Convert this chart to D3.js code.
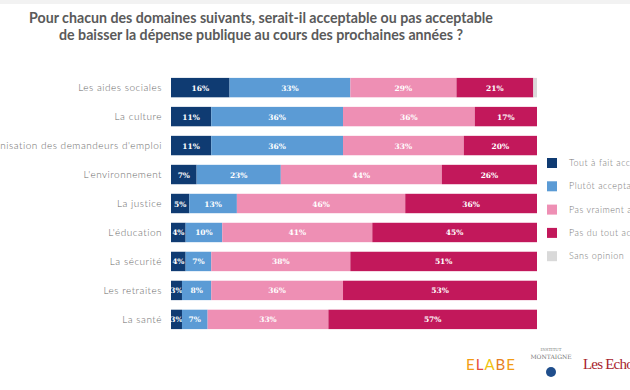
<!DOCTYPE html>
<html><head><meta charset="utf-8">
<script src="https://cdn.jsdelivr.net/npm/d3@7"></script>
<style>html,body{margin:0;padding:0;background:#fff;overflow:hidden}</style>
</head><body>
<svg id="c" width="630" height="390"></svg>
<script>
const categories = ["Les aides sociales","La culture","L'indemnisation des demandeurs d'emploi","L'environnement","La justice","L'éducation","La sécurité","Les retraites","La santé"];
const seriesNames = ["Tout à fait acceptable","Plutôt acceptable","Pas vraiment acceptable","Pas du tout acceptable","Sans opinion"];
const toutAFait   = [16,11,11,7,5,4,4,3,3];
const plutot      = [33,36,36,23,13,10,7,8,7];
const pasVraiment = [29,36,33,44,46,41,38,36,33];
const pasDuTout   = [21,17,20,26,36,45,51,53,57];
const sansOpinion = [1,0,0,0,0,0,0,0,0];
const colors = ["#0f3b72","#5b9bd5","#ee8fb4","#c2185b","#d9d9d9"];
const titleLines = ["Pour chacun des domaines suivants, serait-il acceptable ou pas acceptable","de baisser la dépense publique au cours des prochaines années ?"];

const svg = d3.select("#c");
svg.append("rect").attr("x",0).attr("y",0).attr("width",630).attr("height",4).attr("fill","#f2f2f2");

svg.selectAll("text.title").data(titleLines).join("text")
  .attr("class","title").attr("x",261).attr("y",(d,i)=>23+i*17)
  .attr("text-anchor","middle").attr("font-family","Lato").attr("font-weight","bold")
  .attr("font-size",14.2).attr("fill","#5a5a5a").text(d=>d);

const series = [toutAFait,plutot,pasVraiment,pasDuTout,sansOpinion];
const rows = categories.map((c,i)=>{
  const o={cat:c}; seriesNames.forEach((s,j)=>o[s]=series[j][i]); return o;});
const stack = d3.stack().keys(seriesNames)(rows);

const x = d3.scaleLinear().domain([0,100]).range([171,537]);
const y = d3.scaleBand().domain(categories).range([75,332]).paddingInner(0.33).paddingOuter(0.1);

const g = svg.append("g");
stack.forEach((layer,j)=>{
  const gg = g.append("g").attr("fill",colors[j]);
  gg.selectAll("rect").data(layer).join("rect")
    .attr("x",d=>x(d[0])).attr("y",d=>y(d.data.cat))
    .attr("width",d=>x(d[1])-x(d[0])).attr("height",y.bandwidth());
  if(j<4){
    g.append("g").selectAll("text").data(layer.filter(d=>d[1]-d[0]>0)).join("text")
      .attr("x",d=>(x(d[0])+x(d[1]))/2).attr("y",d=>y(d.data.cat)+y.bandwidth()/2+3)
      .attr("text-anchor","middle").attr("font-family","DejaVu Serif").attr("font-weight","bold")
      .attr("font-size",7.5).attr("fill","#fff").text(d=>(d[1]-d[0])+"%");
  }
});

const yAxis = d3.axisLeft(y).tickSize(0).tickPadding(0);
const ax = svg.append("g").attr("transform","translate(162,0)").call(yAxis);
ax.select(".domain").remove();
ax.selectAll("text").attr("font-family","Lato").attr("font-weight",300).attr("font-size",10)
  .attr("letter-spacing",0.5).attr("fill","#6a6a6a");

const leg = svg.append("g");
seriesNames.forEach((s,i)=>{
  const yy = 158 + i*23.3;
  leg.append("rect").attr("x",547).attr("y",yy).attr("width",10).attr("height",10).attr("fill",colors[i]);
  leg.append("text").attr("x",569).attr("y",yy+8).attr("font-family","Lato").attr("font-weight",300)
    .attr("font-size",9).attr("letter-spacing",0.5).attr("fill","#777").text(s);
});

// logos
const elabe = svg.append("text").attr("x",466).attr("y",370).attr("font-family","Lato").attr("font-size",15).attr("letter-spacing",1);
const elColors=["#f39c12","#e74c3c","#f1c40f","#e67e22","#f39c12"];
"ELABE".split("").forEach((ch,i)=>elabe.append("tspan").attr("fill",elColors[i]).text(ch));
svg.append("text").attr("x",551).attr("y",351).attr("text-anchor","middle").attr("font-family","DejaVu Serif").attr("font-size",4).attr("fill","#777").text("INSTITUT");
svg.append("text").attr("x",551).attr("y",359).attr("text-anchor","middle").attr("font-family","DejaVu Serif").attr("font-size",6).attr("fill","#777").text("MONTAIGNE");
svg.append("circle").attr("cx",551).attr("cy",372).attr("r",5).attr("fill","#1f4e8c");
svg.append("text").attr("x",583).attr("y",369).attr("font-family","Liberation Serif").attr("font-size",15)
  .attr("letter-spacing",-0.8).attr("fill","#a8232b").text("Les Echos");
</script>
</body></html>
